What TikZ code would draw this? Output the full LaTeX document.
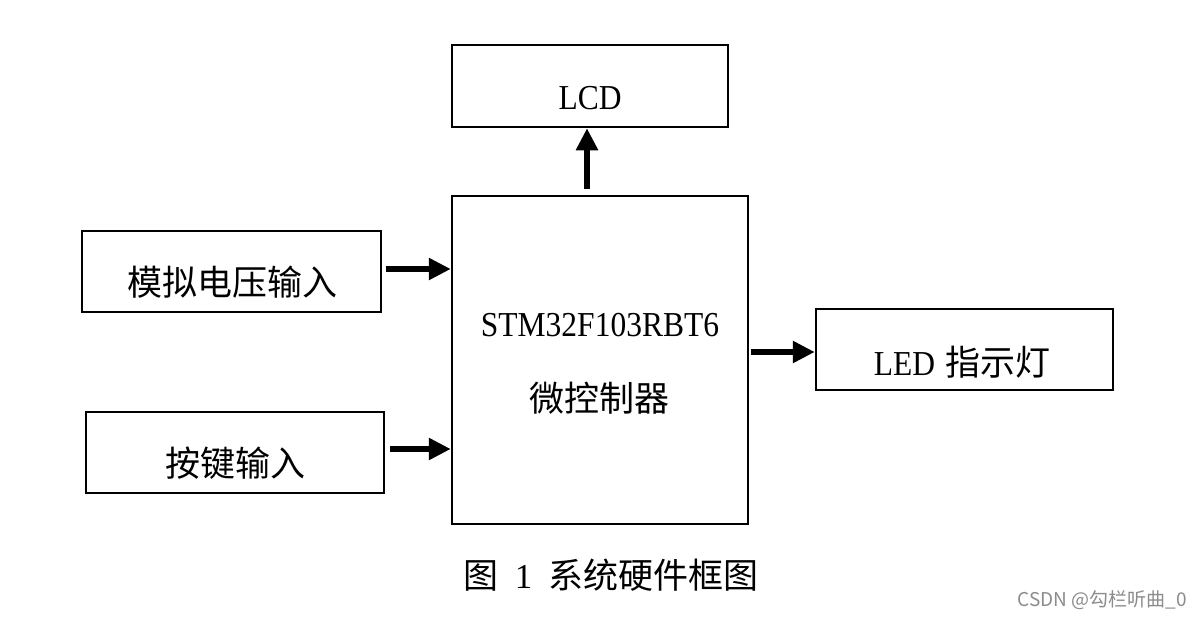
\documentclass[tikz,border=0pt]{standalone}
\usepackage{fontspec}
\setmainfont{Liberation Serif}
\newfontfamily\cjk{Noto Sans CJK SC}
\usetikzlibrary{arrows.meta,calc}
\begin{document}
\begin{tikzpicture}[x=1pt,y=-1pt,
  blk/.style={draw,line width=2.5pt,inner sep=0pt},
  txt/.style={inner sep=0pt,font=\cjk\fontsize{35}{35}\selectfont},
  lat/.style={inner sep=0pt,font=\fontsize{35}{35}\selectfont},
  arr/.style={line width=6pt,-{Triangle[length=22pt,width=21pt]}}]
\useasboundingbox[fill=white] (0,0) rectangle (1204,618);
% boxes
\node[blk,minimum width=276pt,minimum height=82pt] (lcd) at (590,86) {};
\node[blk,minimum width=296pt,minimum height=328pt] (cpu) at (600,360) {};
\node[blk,minimum width=299pt,minimum height=81pt] (ana) at (231.5,271.5) {};
\node[blk,minimum width=298pt,minimum height=81pt] (key) at (235,452.5) {};
\node[blk,minimum width=297pt,minimum height=81pt] (led) at (964.5,349.5) {};
% texts
\node[lat] (lcdt) at (590,98) {\scalebox{0.9}[1]{LCD}};
\node[txt] (anat) at (232,282) {模拟电压输入};
\node[txt] (keyt) at (235,463) {按键输入};
\node[lat] (cput) at (600,325) {\scalebox{0.9}[1]{STM32F103RBT6}};
\node[txt] (cpuc) at (599,398) {微控制器};
\node[txt] (ledt) at (962,362) {\fontspec{Liberation Serif}\scalebox{0.9}[1]{LED}\hspace{10pt}\cjk 指示灯};
\node[txt] (cap) at (611,575) {图\hspace{16pt}\fontspec{Liberation Serif}1\hspace{16pt}\cjk{}系统硬件框图};
\node[inner sep=0pt,text=black!45,font=\cjk\fontsize{19}{19}\selectfont] (wm) at (1102,600) {CSDN @勾栏听曲\_0};
% arrows
\draw[arr] (cpu.north -| 587,0) ++(0,-6) -- (lcd.south -| 587,0);
\draw[arr,shorten <=4pt] (ana.east |- 0,269) -- (cpu.west |- 0,269);
\draw[arr,shorten <=5pt] (key.east |- 0,449) -- (cpu.west |- 0,449);
\draw[arr,shorten <=2pt] (cpu.east |- 0,352) -- (led.west |- 0,352);
\end{tikzpicture}
\end{document}
